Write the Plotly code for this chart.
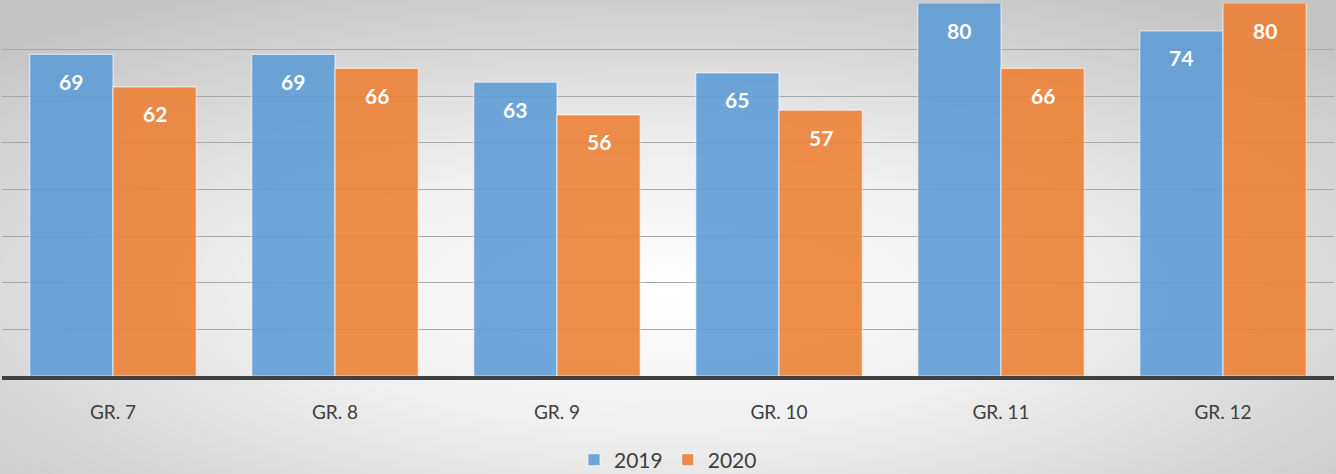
import base64
import plotly.graph_objects as go

categories = ["GR. 7", "GR. 8", "GR. 9", "GR. 10", "GR. 11", "GR. 12"]
values_2019 = [69, 69, 63, 65, 80, 74]
values_2020 = [62, 66, 56, 57, 66, 80]
series_names = ["2019", "2020"]

W, H = 1336, 474
ML, MR, MT, MB = 2, 2, 3, 98
PW, PH = W - ML - MR, H - MT - MB

BLUE = "rgba(91,155,213,0.88)"
ORANGE = "rgba(237,125,49,0.88)"

fig = go.Figure()
for name, vals, col in [(series_names[0], values_2019, BLUE), (series_names[1], values_2020, ORANGE)]:
    fig.add_trace(go.Bar(
        x=categories, y=vals, name=name,
        marker=dict(color=col, line=dict(color="rgba(255,255,255,0.6)", width=1.2)),
    ))

# data labels inside bars, near top
bar_w = PW / len(categories) * (1 - 0.25) / 2
for vals, shift in [(values_2019, -bar_w / 2), (values_2020, bar_w / 2)]:
    for c, v in zip(categories, vals):
        fig.add_annotation(x=c, y=v, text=str(v), showarrow=False,
                           xshift=shift, yshift=-27,
                           font=dict(family="Lato", size=21, color="white", weight="bold"))

svg = (f"<svg xmlns='http://www.w3.org/2000/svg' width='{W}' height='{H}' preserveAspectRatio='none'>"
       "<defs><radialGradient id='g' cx='50%' cy='62%' r='72%'>"
       "<stop offset='0' stop-color='#ffffff'/><stop offset='0.4' stop-color='#f0f0f0'/>"
       "<stop offset='1' stop-color='#c4c4c4'/></radialGradient></defs>"
       "<rect width='100%' height='100%' fill='url(#g)'/></svg>")
src = "data:image/svg+xml;base64," + base64.b64encode(svg.encode()).decode()

fig.add_layout_image(dict(
    source=src, xref="paper", yref="paper",
    x=-ML / PW, y=1 + MT / PH, sizex=W / PW, sizey=H / PH,
    xanchor="left", yanchor="top", sizing="stretch", layer="below",
))

fig.update_layout(
    width=W, height=H,
    margin=dict(l=ML, r=MR, t=MT, b=MB, autoexpand=False),
    paper_bgcolor="rgba(0,0,0,0)", plot_bgcolor="rgba(0,0,0,0)",
    barmode="group", bargap=0.25, bargroupgap=0,
    font=dict(family="Lato", color="#404040"),
    showlegend=True,
    legend=dict(orientation="h", x=0.5, xanchor="center", y=-(460 - (H - MB)) / PH,
                yanchor="middle", font=dict(size=21, color="#404040"),
                bgcolor="rgba(0,0,0,0)", itemwidth=30),
    xaxis=dict(showgrid=False, tickfont=dict(size=19, color="#404040"),
               ticks="", ticklabelstandoff=16, showline=True, linecolor="#404040",
               linewidth=4),
    yaxis=dict(range=[0, 80], dtick=10, showticklabels=False, gridcolor="#a8a8a8",
               gridwidth=1.3, zeroline=False, showline=False),
)

fig.write_html("out.html", config={"displayModeBar": False},
               post_script="document.body.style.margin='0';")
